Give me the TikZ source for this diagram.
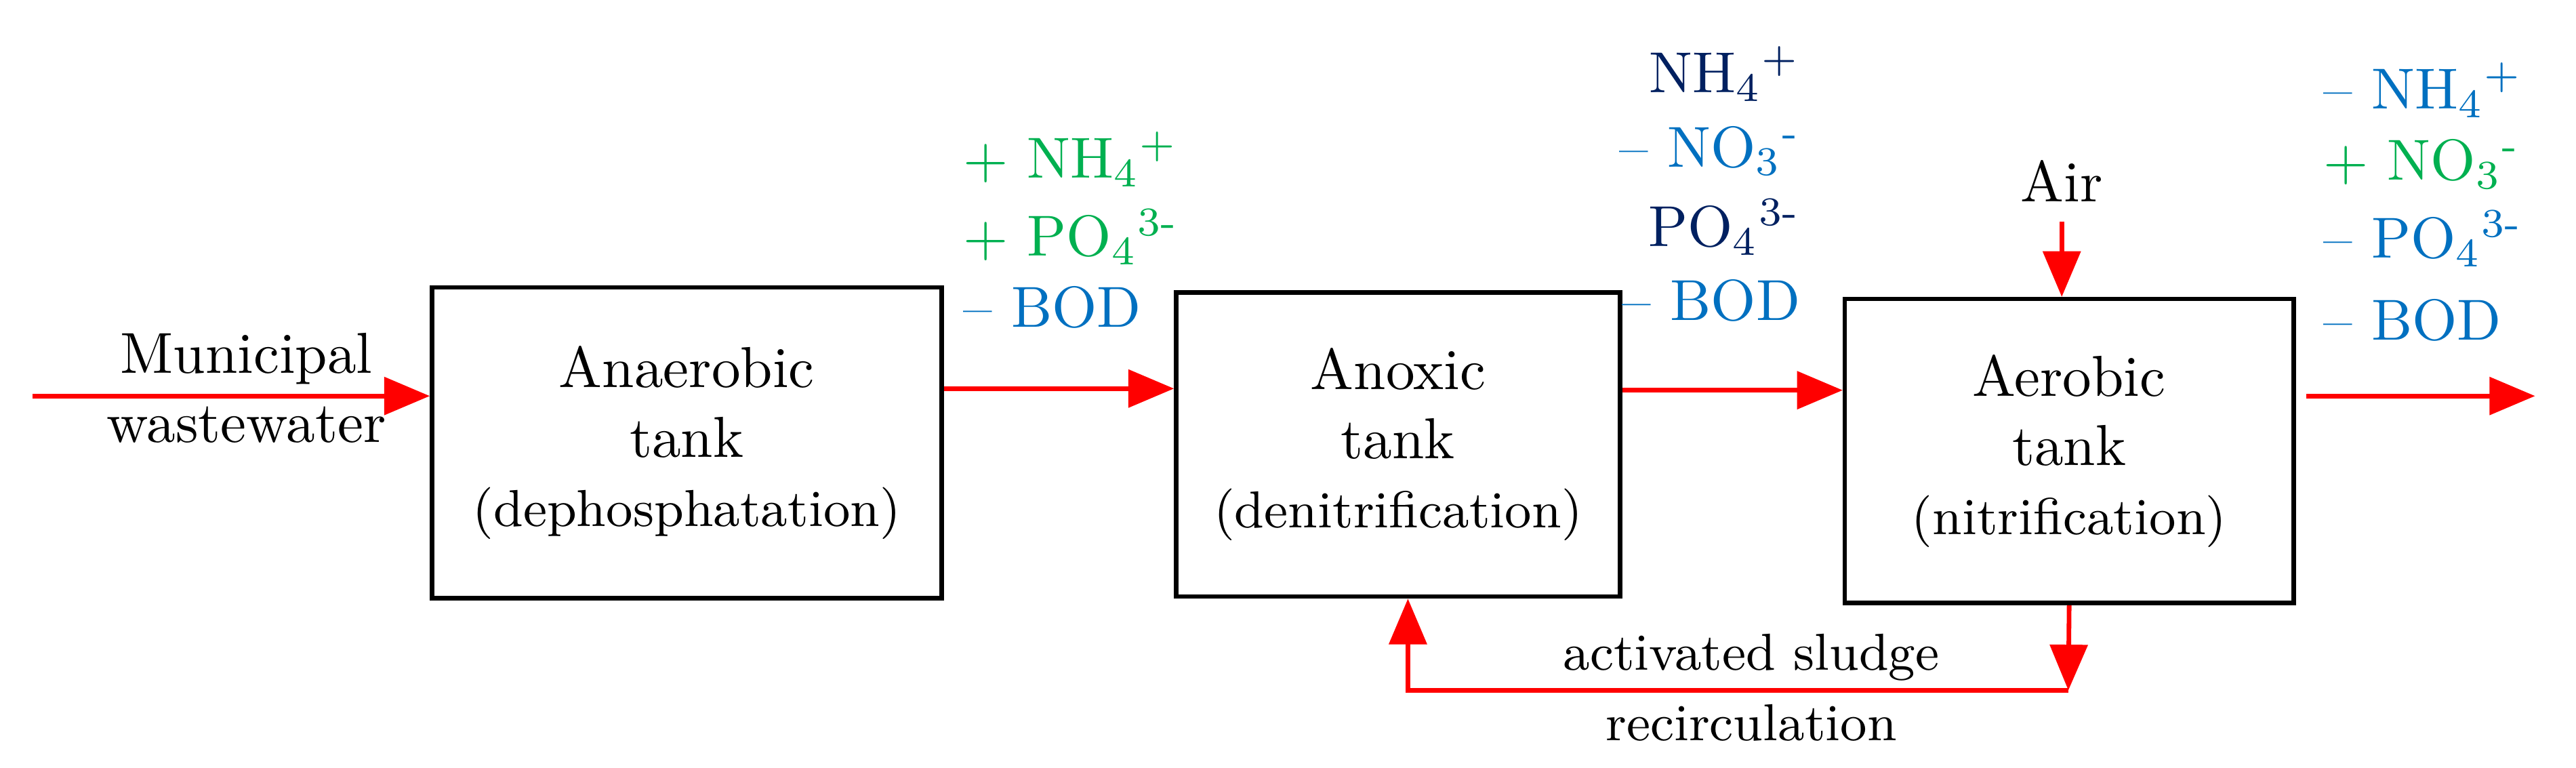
\documentclass[tikz,border=0pt]{standalone}
\usepackage{amsmath}
\usepackage{fixltx2e}
\usepackage{tikz}
\usetikzlibrary{arrows,positioning,calc}
\definecolor{cgreen}{RGB}{0,176,80}
\definecolor{cblue}{RGB}{0,112,192}
\definecolor{cnavy}{RGB}{0,32,96}
\newcommand{\ammon}{NH\textsubscript{4}\textsuperscript{+}}
\newcommand{\nitrat}{NO\textsubscript{3}\textsuperscript{-}}
\newcommand{\phosph}{PO\textsubscript{4}\textsuperscript{3-}}
\tikzset{tank/.style={draw, thick, rectangle, align=center, inner sep=2pt}}
\tikzstyle{flow}=[->, red, thick]
\tikzstyle{chem}=[inner sep=1pt]
\begin{document}
\begin{tikzpicture}[x=0.01cm, y=-0.01cm, >=triangle 45]
\useasboundingbox (0,0) rectangle (1568,467);
\node[tank, minimum width=3.1cm, minimum height=1.89cm] at (418,269.5) (T1){Anaerobic\\tank\\{\small(dephosphatation)}};
\node[tank, minimum width=2.7cm, minimum height=1.85cm] at (851,270.5) (T2){Anoxic\\tank\\{\small(denitrification)}};
\node[tank, minimum width=2.73cm, minimum height=1.85cm] at (1259.5,274.5) (T3){Aerobic\\tank\\{\small(nitrification)}};
\node[align=center] at (150,236) (MW){Municipal\\wastewater};
\node at (1255,110) (Air){Air};
\coordinate (In) at (20,241);
\coordinate (Out1) at (1404,241);
\coordinate (Out2) at (1543,241);
\coordinate (R1) at (1259,420);
\coordinate (R2) at (857,420);
\node at (1066,400) (L1){\small activated sludge};
\node at (1066,440) (L2){\small recirculation};

% concentrations
\node[chem, anchor=west, text=cgreen] at (582,97) (A1){+ \ammon};
\node[chem, anchor=west, text=cgreen] at (582,144) (A2){+ \phosph};
\node[chem, anchor=west, text=cblue] at (582,187) (A3){-- BOD};
\node[chem, anchor=east, text=cnavy] at (1100,45) (B1){\ammon};
\node[chem, anchor=east, text=cblue] at (1100,92) (B2){-- \nitrat};
\node[chem, anchor=east, text=cnavy] at (1100,138) (B3){\phosph};
\node[chem, anchor=east, text=cblue] at (1100,183) (B4){-- BOD};
\node[chem, anchor=west, text=cblue] at (1410,55) (C1){-- \ammon};
\node[chem, anchor=west, text=cgreen] at (1410,100) (C2){+ \nitrat};
\node[chem, anchor=west, text=cblue] at (1410,145) (C3){-- \phosph};
\node[chem, anchor=west, text=cblue] at (1410,195) (C4){-- BOD};

\draw[flow] (In) -- (In -| T1.west);
\draw[flow] ([yshift=3.3mm]T1.east) -- ([yshift=3.3mm]T1.east -| T2.west);
\draw[flow] ([yshift=3.3mm]T2.east) -- ([yshift=3.3mm]T2.east -| T3.west);
\draw[flow] (Out1) -- (Out2);
\draw[flow] (Air) -- (Air |- T3.north);
\draw[flow] (T3.south) -- (R1);
\draw[flow] (R1) -- (R2) -- (R2 |- T2.south);
\end{tikzpicture}
\end{document}
